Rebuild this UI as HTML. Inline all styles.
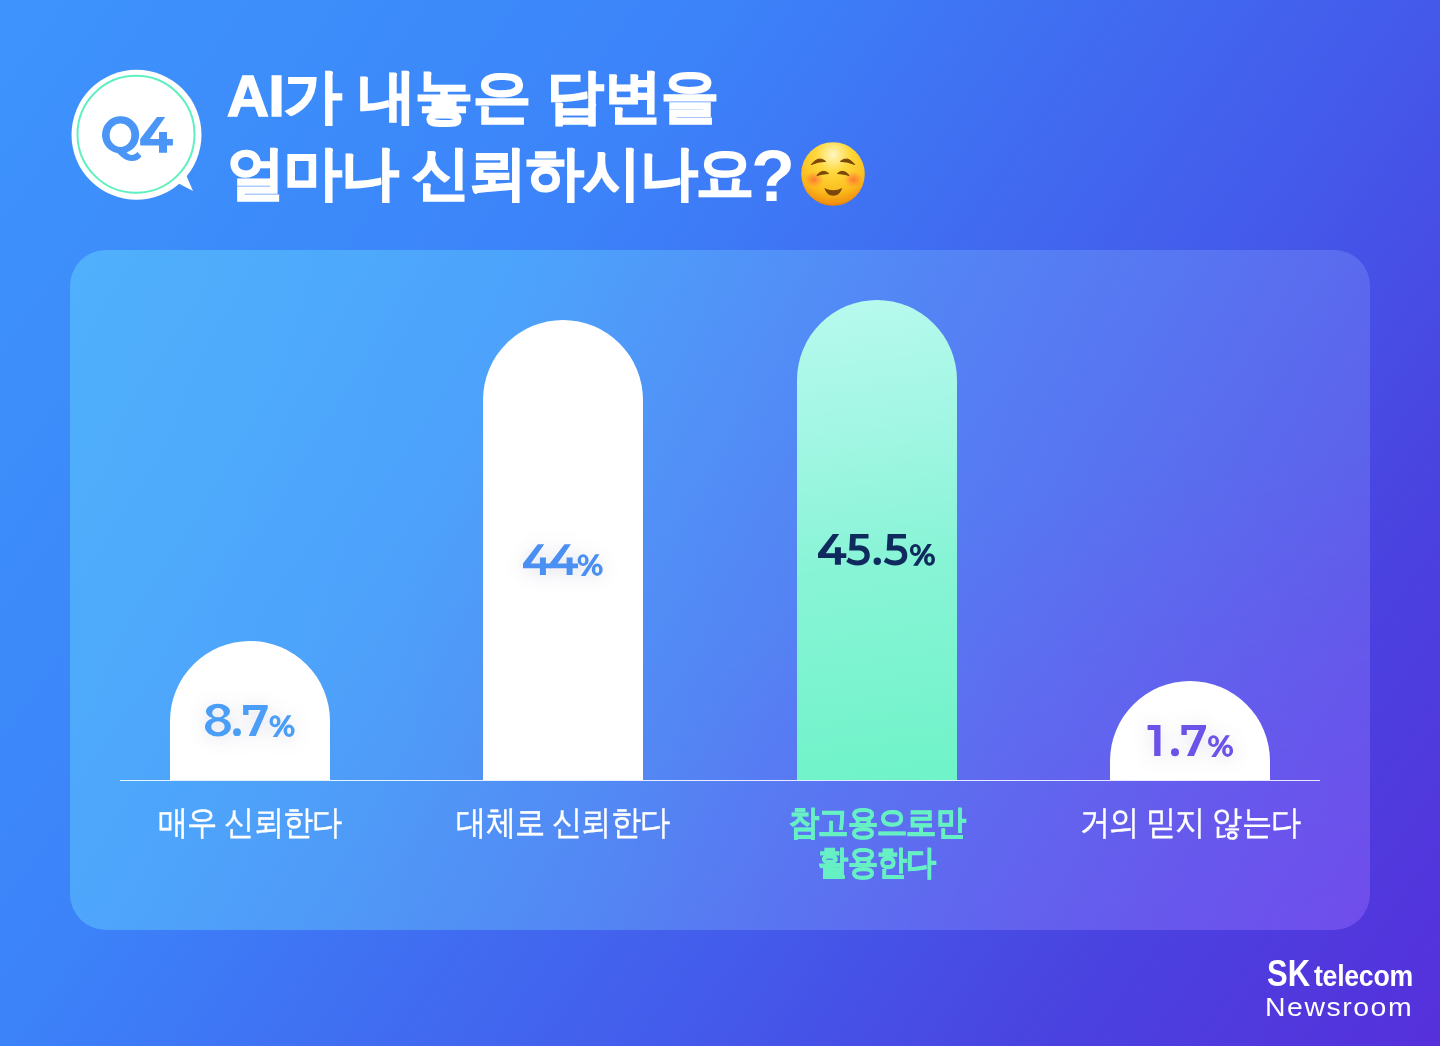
<!DOCTYPE html>
<html><head><meta charset="utf-8">
<style>
html,body{margin:0;padding:0}
body{width:1440px;height:1046px;overflow:hidden;position:relative;font-family:"Liberation Sans",sans-serif;
background:linear-gradient(125deg,#3e94fc 0%,#3c88fa 25%,#3c82f9 34%,#4459ea 66%,#4a42e0 82%,#5630db 100%);}
.abs{position:absolute}
.title{left:227px;color:#fff;font-weight:700;font-size:58px;line-height:77px;white-space:nowrap;letter-spacing:-0.4px;-webkit-text-stroke:1.6px #fff}
.panel{left:70px;top:250px;width:1300px;height:680px;border-radius:36px;background:radial-gradient(ellipse 60% 70% at 100% 100%,rgba(160,50,255,0.2),rgba(160,50,255,0) 100%),linear-gradient(105deg,rgba(125,255,255,0.3) 0%,rgba(118,240,255,0.3) 30%,rgba(130,190,255,0.3) 60%,rgba(145,150,255,0.3) 100%)}
.bar{position:absolute;width:160px;border-radius:80px 80px 0 0;background:#fff}
.lab{position:absolute;width:320px;text-align:center;color:#fff;font-size:34px;line-height:40px;letter-spacing:-1px;transform:scaleX(0.89);-webkit-text-stroke:0.4px #fff}
.axis{left:120px;top:780px;width:1200px;height:1px;background:rgba(255,255,255,0.85)}
</style></head><body>
<svg class="abs" style="left:0;top:0" width="220" height="220" viewBox="0 0 220 220">
  <circle cx="136.5" cy="134.8" r="65" fill="#fff"/>
  <path d="M172 180 L193 191 L184 170 Z" fill="#fff"/>
  <circle cx="136" cy="134.3" r="58.5" fill="none" stroke="#5ef0c0" stroke-width="2"/>
  <g fill="#4a95f6"><path fill-rule="evenodd" d="M120.6 116.2 A18.6 18.6 0 1 1 120.6 153.4 A18.6 18.6 0 1 1 120.6 116.2 Z M120.5 123.4 A10.8 11.8 0 1 0 120.5 147 A10.8 11.8 0 1 0 120.5 123.4 Z"/>
<path d="M115 151 C120 155 124 161 132 161 C136 161 139 159.5 141.5 156.5 L137.5 152 C135.5 154 133.5 155 131.5 155 C128.5 155 126.5 152.5 125.5 150.5 Z"/>
<path d="M157 117.1 L165.2 117.1 L149.9 138.9 L140.2 138.9 Z M140.2 138.9 H172.9 V145.4 H140.2 Z M159 132.1 H167 V152.8 H159 Z"/></g>
</svg>
<div class="abs title" style="top:57px">AI가 내놓은 답변을</div>
<div class="abs title" style="top:134px;letter-spacing:-1.2px">얼마나 신뢰하시나요</div>
<div class="abs title" style="top:131px;left:751px;font-size:72px;line-height:90px;letter-spacing:0;-webkit-text-stroke:0">?</div>

<svg class="abs" style="left:801px;top:142px" width="64" height="64" viewBox="0 0 64 64">
<defs><radialGradient id="ef" cx="50%" cy="20%" r="82%"><stop offset="0" stop-color="#fff7c2"/><stop offset="0.32" stop-color="#ffd93c"/><stop offset="0.72" stop-color="#fbbb1c"/><stop offset="0.92" stop-color="#f29410"/><stop offset="1" stop-color="#e37406"/></radialGradient>
<radialGradient id="bl" cx="50%" cy="50%" r="50%"><stop offset="0" stop-color="#ff5a3a" stop-opacity="0.7"/><stop offset="1" stop-color="#ff6a3a" stop-opacity="0"/></radialGradient></defs>
<circle cx="32" cy="32" r="31.8" fill="url(#ef)"/>
<ellipse cx="13" cy="37.6" rx="9.5" ry="8" fill="url(#bl)"/><ellipse cx="52.5" cy="37.6" rx="9.5" ry="8" fill="url(#bl)"/>
<g fill="#7a4708" stroke="#7a4708" stroke-width="1" stroke-linejoin="round">
<path d="M10.2 22.6 Q17.5 13.2 24.6 19.4 Q17.5 19.3 10.2 22.6 Z"/>
<path d="M53.8 22.6 Q46.5 13.2 39.4 19.4 Q46.5 19.3 53.8 22.6 Z"/>
<path d="M15.8 33.5 Q21.6 26.2 27.6 31.5 Q21.6 31.8 15.8 33.5 Z"/>
<path d="M48.2 33.5 Q42.4 26.2 36.4 31.5 Q42.4 31.8 48.2 33.5 Z"/>
</g>
<path d="M23.3 46 Q32.3 50.5 41.2 46 Q39 53.8 32.3 53.8 Q25.6 53.8 23.3 46 Z" fill="#7a4708"/>
</svg>
<div class="abs panel"></div>
<div class="abs axis"></div>

<div class="bar" style="left:170px;top:641px;height:139px"></div>
<div class="bar" style="left:483px;top:320px;height:460px"></div>
<div class="bar" style="left:797px;top:300px;height:480px;background:linear-gradient(172deg,#b8faee 0%,#a0f6e2 30%,#88f4d6 55%,#6ff3c8 100%)"></div>
<div class="bar" style="left:1110px;top:681px;height:99px"></div>


<svg class="abs" style="left:0;top:0;overflow:visible" width="1440" height="1046" viewBox="0 0 1440 1046">
<defs>
<path id="g4" d="M14.8,-30.7 L21.2,-30.7 L7.8,-11.6 L16.9,-11.6 L16.9,-17.6 L22.9,-17.6 L22.9,-11.6 L28.3,-11.6 L28.3,-6.8 L22.9,-6.8 L22.9,0 L16.9,0 L16.9,-6.8 L0,-6.8 L0,-11.6 Z"/>
<path id="g5" d="M4,-31 H22.3 V-26.4 H9.6 L9.1,-19.2 C10.3,-19.5 11.5,-19.7 12.8,-19.7 C19.8,-19.7 23.6,-15.7 23.6,-9.7 C23.6,-3.6 19.0,0.5 11.6,0.5 C7.4,0.5 3.2,-0.9 0,-3.3 L2.5,-7.6 C5.0,-5.7 8.2,-4.6 11.6,-4.6 C15.9,-4.6 18.3,-6.6 18.3,-9.7 C18.3,-12.8 16.2,-14.5 11.6,-14.5 H3.0 Z"/>
<path id="gp" fill-rule="evenodd" d="M0,-15.75 A5.5,5.95 0 1 1 11,-15.75 A5.5,5.95 0 1 1 0,-15.75 Z M3.35,-15.75 A2.15,3.1 0 1 1 7.65,-15.75 A2.15,3.1 0 1 1 3.35,-15.75 Z M17.7,-21.7 L21.9,-21.7 L7.8,0 L3.2,0 Z M14.1,-6.2 A5.5,6.2 0 1 1 25.1,-6.2 A5.5,6.2 0 1 1 14.1,-6.2 Z M17.6,-6.2 A2,3.3 0 1 1 21.6,-6.2 A2,3.3 0 1 1 17.6,-6.2 Z"/>
<g id="g8"><path fill-rule="evenodd" d="M0.95,-24.7 A12,7.65 0 1 1 24.95,-24.7 A12,7.65 0 1 1 0.95,-24.7 Z M7.2,-23.1 A5.8,4.9 0 1 1 18.8,-23.1 A5.8,4.9 0 1 1 7.2,-23.1 Z"/><path fill-rule="evenodd" d="M0,-9.15 A12.95,9.65 0 1 1 25.9,-9.15 A12.95,9.65 0 1 1 0,-9.15 Z M6.25,-9.3 A6.7,5.5 0 1 1 19.65,-9.3 A6.7,5.5 0 1 1 6.25,-9.3 Z"/></g>
<path id="g7" d="M0,-31.1 L24.6,-31.1 L24.6,-27.7 L12.6,0 L5.6,0 L17.5,-26 L5.4,-26 L5.4,-20.9 L0,-20.9 Z"/>
<path id="g1" d="M0,-31.1 H12.9 V0 H6.6 V-26 H0 Z"/>
</defs>
<g fill="#4b9ef7" style="filter:drop-shadow(0 2px 9px rgba(40,50,110,0.17))">
<use href="#g8" x="205" y="736"/><circle cx="237" cy="732.2" r="3.9"/><use href="#g7" x="243.1" y="736"/><use href="#gp" x="269.5" y="737"/>
</g>
<g fill="#4a8ff2" style="filter:drop-shadow(0 2px 9px rgba(40,50,110,0.17))">
<use href="#g4" x="523" y="575"/><use href="#g4" x="549.7" y="575"/><use href="#gp" x="577.6" y="575.9"/>
</g>
<g fill="#0f2b5e">
<use href="#g4" x="818" y="564.8"/><use href="#g5" x="846.2" y="565"/><circle cx="877.3" cy="561.2" r="3.7"/><use href="#g5" x="883.7" y="565"/><use href="#gp" x="909.9" y="565.7"/>
</g>
<g fill="#6b52e8" style="filter:drop-shadow(0 2px 9px rgba(40,50,110,0.17))">
<use href="#g1" x="1147.6" y="756"/><circle cx="1175" cy="752.3" r="4"/><use href="#g7" x="1181.4" y="756"/><use href="#gp" x="1208" y="756.9"/>
</g>
</svg>
<div class="lab" style="left:90px;top:802px">매우 신뢰한다</div>
<div class="lab" style="left:403px;top:802px">대체로 신뢰한다</div>
<div class="lab" style="left:717px;top:802px;color:#66f0c4;font-weight:700;-webkit-text-stroke:0.8px #66f0c4">참고용으로만<br>활용한다</div>
<div class="lab" style="left:1030px;top:802px">거의 믿지 않는다</div>

<div class="abs" style="left:1267px;top:954px;color:#fff;font-weight:700;font-size:36px;line-height:40px;white-space:nowrap;transform:scaleX(0.86);transform-origin:0 0">SK</div>
<div class="abs" style="left:1314px;top:959px;color:#fff;font-weight:700;font-size:29px;line-height:34px;white-space:nowrap;transform:scaleX(0.92);transform-origin:0 0;letter-spacing:-0.3px">telecom</div>
<div class="abs" style="left:1265px;top:992px;color:#fff;font-size:25.6px;line-height:30px;white-space:nowrap;letter-spacing:1.4px;transform:scaleX(1.11);transform-origin:0 0">Newsroom</div>
</body></html>
